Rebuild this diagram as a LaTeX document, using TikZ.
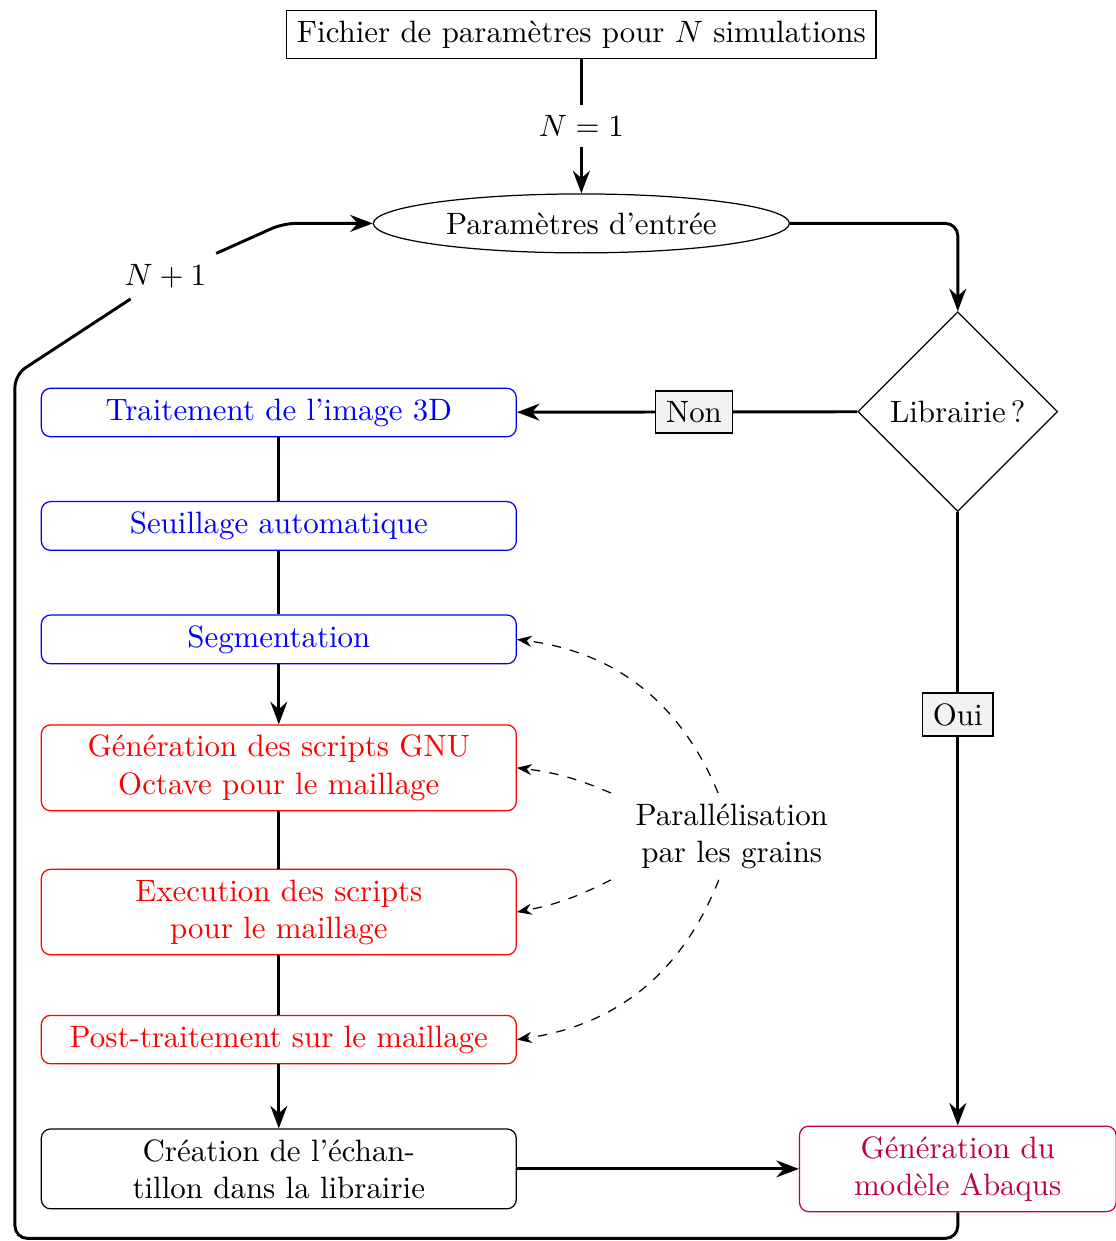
\documentclass[tikz,border=0pt]{standalone}
\usepackage{amsmath, amssymb}
\usepackage{tikz}
\usetikzlibrary{shapes.geometric}
\usetikzlibrary{arrows.meta,positioning}

\tikzset{
    boite/.style={draw, rounded corners=3pt, minimum width=5.4cm, align=center},
    bleu/.style={boite, draw=blue, text=blue},
    rouge/.style={boite, draw=red, text=red},
    choix/.style={draw, thin, fill=gray!10},
    flux/.style={line width=0.95pt},
}

\begin{document}
\begin{tikzpicture}[>=Stealth]
    \useasboundingbox (0,0) rectangle (12.68,-14.11);

    \node[draw] (fich) at (6.61,-0.39) {Fichier de paramètres pour $N$ simulations};
    \node[draw, ellipse, inner sep=1pt, minimum width=4.73cm, minimum height=0.67cm] (param) at (6.61,-2.54) {Paramètres d'entrée};
    \node[draw, diamond, aspect=1, inner sep=1pt, minimum size=2.27cm] (lib) at (10.89,-4.68) {Librairie\,?};

    \node[bleu] (trait) at (3.17,-4.69) {Traitement de l'image 3D};
    \node[bleu] (seuil) at (3.17,-5.98) {Seuillage automatique};
    \node[bleu] (segm) at (3.17,-7.27) {Segmentation};
    \node[rouge] (gnu) at (3.17,-8.73) {Génération des scripts GNU\\Octave pour le maillage};
    \node[rouge] (exec) at (3.17,-10.37) {Execution des scripts\\pour le maillage};
    \node[rouge] (post) at (3.17,-11.82) {Post-traitement sur le maillage};
    \node[boite] (crea) at (3.17,-13.29) {Création de l'échan-\\tillon dans la librairie};
    \node[boite, minimum width=3.6cm, draw=purple, text=purple] (abaq) at (10.89,-13.29) {Génération du\\modèle Abaqus};

    \node[align=center, text width=2.5cm] (para) at (8.32,-9.51) {Parallélisation\\par les grains};
    \node[fill=white] (np1) at (1.88,-3.14) {$N+1$};

    \draw[flux,->] (fich) -- node[fill=white] (n1) {$N=1$} (param);
    \draw[flux,->,rounded corners] (param.east) -| (lib.north);
    \draw[flux,->] (lib) -- node[choix, pos=0.48] (non) {Non} (trait);
    \draw[flux,->] (lib) -- node[choix, pos=0.33] (oui) {Oui} (abaq);

    \draw[flux] (trait) -- (seuil);
    \draw[flux] (seuil) -- (segm);
    \draw[flux,->] (segm) -- (gnu);
    \draw[flux] (gnu) -- (exec);
    \draw[flux] (exec) -- (post);
    \draw[flux,->] (post) -- (crea);
    \draw[flux,->] (crea) -- (abaq);

    % boucle sur les simulations
    \draw[flux,->,rounded corners] (abaq.south) |- (0.17,-14.08) -- (0.17,-4.26) -- (np1) -- (3.22,-2.54) -- (param.west);

    \draw[dashed,->] (para) to[bend right=30] (segm.east);
    \draw[dashed,->] (para.north west) to[bend right=8] (gnu.east);
    \draw[dashed,->] (para.south west) to[bend left=8] (exec.east);
    \draw[dashed,->] (para) to[bend left=30] (post.east);
\end{tikzpicture}
\end{document}
